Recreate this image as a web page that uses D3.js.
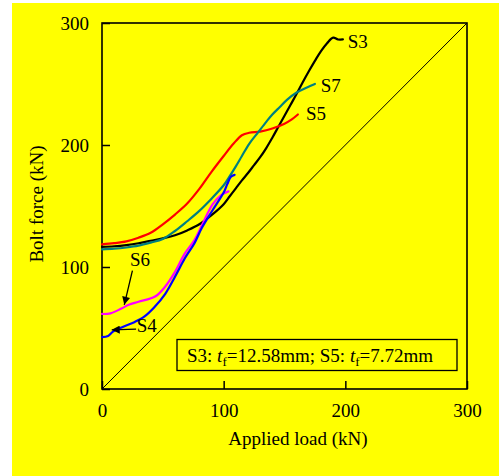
<!DOCTYPE html>
<html><head><meta charset="utf-8">
<script src="https://cdn.jsdelivr.net/npm/d3@7"></script>
<style>body{margin:0;background:#fff}svg{display:block}text{font-family:"Liberation Serif","Times New Roman",serif}</style>
</head><body>
<svg id="c" width="499" height="476"></svg>
<script>
const xTicks = [0, 100, 200, 300];
const yTicks = [0, 100, 200, 300];
const s3 = [[0,116.5],[10,117],[20,118],[30,119.5],[40,121.5],[50,123.5],[60,126],[70,130],[80,135],[90,142.5],[100,151.5],[105,158],[110,164.5],[115,171],[120,177],[125,183.5],[130,190],[135,197.5],[140,206],[145,215],[150,224],[155,233],[160,242],[165,251.5],[170,260.5],[175,269],[180,277],[185,283.5],[190,288],[194,286.5],[198,286.5]];
const s5 = [[0,118.6],[10,119.5],[20,121],[30,124],[40,128],[50,135],[60,143],[70,152],[80,164],[90,178],[100,191],[108,201],[115,208],[121,210],[130,211],[140,213.5],[150,217.5],[156,221],[161,225]];
const s7 = [[0,114.5],[10,115],[20,116],[30,117.5],[40,120],[50,123],[60,129.5],[70,137.5],[80,146],[90,156],[100,167],[105,174.5],[110,182.5],[115,191],[121,201],[128,210],[135,219],[140,225],[146,231],[152,237],[160,243],[168,247],[175,250]];
const s4 = [[0,42.5],[5,43.5],[9,47],[16,50.5],[27,55],[35,59.5],[43,67],[52,78],[60,92],[68,107],[76,119.5],[82,132],[91,146.7],[100,161],[103,168],[106,174],[109,175.5]];
const s6 = [[0,61.5],[7,62],[16,66],[22,69],[30,71.5],[44,76],[52,84],[60,96],[68,111],[76,122],[82,134],[91,151.5],[98,159],[104,162]];
const series = [
  {name:"S3", data:s3, color:"#000000", label:[202,279.5]},
  {name:"S7", data:s7, color:"#008080", label:[179.7,243.7]},
  {name:"S5", data:s5, color:"#ff0000", label:[167.7,220.5]},
  {name:"S6", data:s6, color:"#ff00ff"},
  {name:"S4", data:s4, color:"#0000ff"}
];
const legendText = ["S3: ", "t", "f", "=12.58mm; S5: ", "t", "f", "=7.72mm"];

const svg = d3.select("#c");
svg.append("rect").attr("x",12).attr("y",3).attr("width",487).attr("height",473).attr("fill","#ffff00");
const L=102, R=467, T=23, B=389;
const x = d3.scaleLinear().domain([0,300]).range([L,R]);
const y = d3.scaleLinear().domain([0,300]).range([B,T]);

svg.append("line").attr("x1",x(0)).attr("y1",y(0)).attr("x2",x(300)).attr("y2",y(300)).attr("stroke","#000").attr("stroke-width",1);

const fs = 19;
const xa = svg.append("g").attr("transform",`translate(0,${B})`).call(d3.axisBottom(x).tickValues(xTicks).tickSize(-8).tickPadding(14.5).tickFormat(d3.format("d")));
const ya = svg.append("g").attr("transform",`translate(${L},0)`).call(d3.axisLeft(y).tickValues(yTicks).tickSize(-8).tickPadding(13).tickFormat(d3.format("d")));
[xa,ya].forEach(g=>{
  g.select(".domain").remove();
  g.selectAll("text").attr("font-size",fs).attr("font-family","Liberation Serif").attr("fill","#000");
  g.selectAll("line").attr("stroke","#000").attr("stroke-width",1.5);
});
ya.selectAll("text").attr("dy","0.35em");
svg.append("rect").attr("x",L).attr("y",T).attr("width",R-L).attr("height",B-T).attr("fill","none").attr("stroke","#000").attr("stroke-width",1.6);

svg.append("text").attr("x",298).attr("y",445).attr("text-anchor","middle").attr("font-size",fs).text("Applied load (kN)");
svg.append("text").attr("transform",`translate(43,204) rotate(-90)`).attr("text-anchor","middle").attr("font-size",fs).text("Bolt force (kN)");

const order = ["S3","S5","S7","S6","S4"];
order.forEach(n=>{
  const s = series.find(v=>v.name===n);
  svg.append("path").datum(s.data).attr("d", d3.line().x(d=>x(d[0])).y(d=>y(d[1])).curve(d3.curveCatmullRom.alpha(0.5))).attr("fill","none").attr("stroke",s.color).attr("stroke-width",2.2).attr("stroke-linejoin","round").attr("stroke-linecap","round");
});
series.filter(s=>s.label).forEach(s=>{
  svg.append("text").attr("x",x(s.label[0])).attr("y",y(s.label[1])).attr("font-size",fs).text(s.name);
});

const defs = svg.append("defs");
defs.append("marker").attr("id","ah").attr("viewBox","0 0 10 10").attr("refX",10).attr("refY",5)
  .attr("markerWidth",10).attr("markerHeight",8).attr("markerUnits","userSpaceOnUse").attr("orient","auto")
  .append("path").attr("d","M0,0L10,5L0,10Z").attr("fill","#000");
svg.append("text").attr("x",x(23)).attr("y",y(100.5)).attr("font-size",fs).text("S6");
svg.append("line").attr("x1",x(25)).attr("y1",y(97)).attr("x2",x(18.3)).attr("y2",y(69)).attr("stroke","#000").attr("stroke-width",1.3).attr("marker-end","url(#ah)");
svg.append("text").attr("x",x(28.5)).attr("y",y(47)).attr("font-size",fs).text("S4");
svg.append("line").attr("x1",x(28)).attr("y1",y(49)).attr("x2",x(8)).attr("y2",y(48.5)).attr("stroke","#000").attr("stroke-width",1.3).attr("marker-end","url(#ah)");

svg.append("rect").attr("x",177).attr("y",339.5).attr("width",280).attr("height",31).attr("fill","none").attr("stroke","#000").attr("stroke-width",1.3);
const lt = svg.append("text").attr("x",187).attr("y",362).attr("font-size",fs);
legendText.forEach((t,i)=>{
  const sp = lt.append("tspan").text(t);
  if(t==="t") sp.attr("font-style","italic");
  if(t==="f") sp.attr("font-size",13).attr("dy",4);
  if(i>0 && legendText[i-1]==="f") sp.attr("dy",-4);
});
</script>
</body></html>
